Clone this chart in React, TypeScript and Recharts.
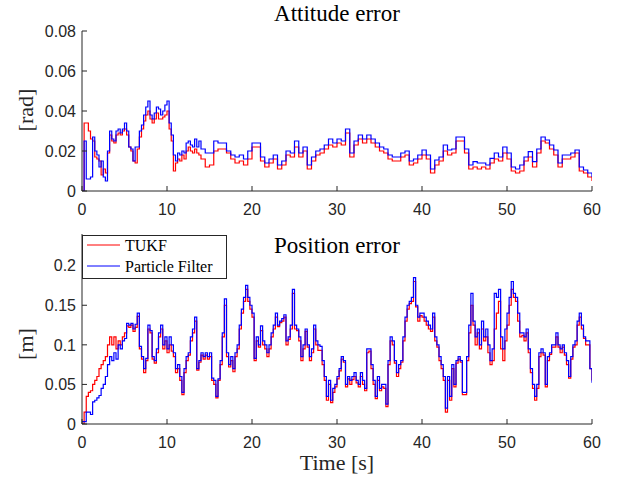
import React from 'react';
import { LineChart, Line, XAxis, YAxis } from 'recharts';

// ---------- Attitude error (top) ----------
// time: 0..14 s every 0.25 s, then 14.5..60 s every 0.5 s
const attTimeFine = Array.from({ length: 57 }, (_, i) => i * 0.25);
const attTimeCoarse = Array.from({ length: 92 }, (_, i) => 14.5 + i * 0.5);
const attTime = [...attTimeFine, ...attTimeCoarse];

const attTukf = [
  0, 0.034, 0.034, 0.03,
  0.026, 0.025, 0.017, 0.016,
  0.015, 0.008, 0.011, 0.009,
  0.019, 0.028, 0.025, 0.024,
  0.028, 0.029, 0.028, 0.03,
  0.031, 0.028, 0.022, 0.02,
  0.015, 0.014, 0.021, 0.027,
  0.031, 0.035, 0.038, 0.04,
  0.036, 0.034, 0.036, 0.039,
  0.036, 0.036, 0.037, 0.038,
  0.04, 0.031, 0.025, 0.01,
  0.014, 0.016, 0.015, 0.018,
  0.016, 0.02, 0.022, 0.02,
  0.019, 0.021, 0.019, 0.018,
  0.016,
  // 14.5 .. 60 every 0.5
  0.012, 0.013, 0.02, 0.021, 0.021, 0.019, 0.016, 0.014, 0.015, 0.013, 0.016,
  0.022, 0.022, 0.015, 0.012, 0.014, 0.016, 0.011, 0.013, 0.018, 0.017,
  0.022, 0.017, 0.02, 0.011, 0.015, 0.018, 0.019, 0.021, 0.023, 0.022,
  0.024, 0.023, 0.029, 0.017, 0.023, 0.026, 0.024, 0.026, 0.024, 0.022,
  0.02, 0.019, 0.016, 0.015, 0.015, 0.017, 0.018, 0.013, 0.014, 0.016,
  0.018, 0.016, 0.009, 0.013, 0.015, 0.02, 0.018, 0.019, 0.025, 0.025,
  0.019, 0.011, 0.012, 0.011, 0.012, 0.011, 0.014, 0.016, 0.015, 0.019,
  0.016, 0.01, 0.009, 0.01, 0.015, 0.017, 0.012, 0.019, 0.025, 0.024,
  0.021, 0.018, 0.012, 0.016, 0.016, 0.017, 0.019, 0.01, 0.009, 0.007,
  0.005,
];

const attPf = [
  0, 0.025, 0.006, 0.006,
  0.007, 0.027, 0.02, 0.018,
  0.012, 0.015, 0.007, 0.005,
  0.02, 0.03, 0.026, 0.025,
  0.03, 0.031, 0.029, 0.031,
  0.034, 0.03, 0.022, 0.021,
  0.015, 0.022, 0.022, 0.03,
  0.033, 0.038, 0.042, 0.045,
  0.038, 0.036, 0.039, 0.042,
  0.041, 0.038, 0.04, 0.043,
  0.045, 0.034, 0.028, 0.018,
  0.015, 0.019, 0.018, 0.02,
  0.019, 0.024, 0.025, 0.023,
  0.022, 0.026, 0.022, 0.025,
  0.021,
  // 14.5 .. 60 every 0.5
  0.019, 0.019, 0.025, 0.024, 0.024, 0.02, 0.018, 0.017, 0.018, 0.016, 0.02,
  0.024, 0.024, 0.017, 0.014, 0.016, 0.018, 0.013, 0.015, 0.02, 0.019,
  0.025, 0.019, 0.022, 0.013, 0.017, 0.02, 0.021, 0.023, 0.026, 0.024,
  0.026, 0.025, 0.031, 0.019, 0.025, 0.028, 0.026, 0.028, 0.026, 0.024,
  0.022, 0.021, 0.018, 0.017, 0.017, 0.019, 0.02, 0.015, 0.016, 0.018,
  0.0205, 0.018, 0.011, 0.0155, 0.017, 0.023, 0.0205, 0.021, 0.027, 0.027,
  0.021, 0.013, 0.0147, 0.014, 0.014, 0.013, 0.0163, 0.019, 0.017, 0.022,
  0.019, 0.012, 0.011, 0.013, 0.017, 0.0197, 0.0147, 0.021, 0.027, 0.0255,
  0.023, 0.0205, 0.014, 0.018, 0.018, 0.019, 0.0205, 0.012, 0.0105, 0.009,
  0.007,
];

// ---------- Position error (bottom) ----------
const posTime = Array.from({ length: 241 }, (_, i) => i * 0.25);

const posTukf = [
  0, 0.015, 0.035, 0.04,
  0.042, 0.05, 0.055, 0.06,
  0.07, 0.075, 0.08, 0.085,
  0.1, 0.11, 0.1, 0.11,
  0.095, 0.105, 0.1, 0.11,
  0.115, 0.124, 0.122, 0.125,
  0.117, 0.122, 0.136, 0.095,
  0.082, 0.065, 0.08, 0.12,
  0.115, 0.082, 0.077, 0.09,
  0.11, 0.12, 0.095, 0.105,
  0.09, 0.1, 0.092, 0.085,
  0.065, 0.07, 0.055, 0.037,
  0.065, 0.08, 0.087, 0.105,
  0.115, 0.13, 0.068, 0.078,
  0.087, 0.082, 0.087, 0.082,
  0.085, 0.055, 0.05, 0.033,
  0.055, 0.075, 0.11, 0.15,
  0.085, 0.072, 0.08, 0.066,
  0.085, 0.095, 0.12, 0.14,
  0.155, 0.17, 0.155, 0.145,
  0.135, 0.08, 0.105, 0.097,
  0.118, 0.1, 0.095, 0.085,
  0.095, 0.11, 0.12, 0.135,
  0.123, 0.128, 0.13, 0.135,
  0.1, 0.107, 0.12, 0.165,
  0.12, 0.118, 0.105, 0.08,
  0.095, 0.117, 0.097, 0.08,
  0.09, 0.12, 0.1, 0.093,
  0.093, 0.075, 0.055, 0.03,
  0.05, 0.027, 0.04, 0.047,
  0.057, 0.067, 0.082, 0.078,
  0.047, 0.057, 0.05, 0.056,
  0.06, 0.052, 0.047, 0.06,
  0.05, 0.042, 0.09, 0.092,
  0.07, 0.05, 0.032, 0.055,
  0.042, 0.047, 0.045, 0.022,
  0.075, 0.105, 0.1, 0.077,
  0.06, 0.07, 0.078, 0.105,
  0.13, 0.145, 0.152, 0.155,
  0.18, 0.148, 0.13, 0.137,
  0.135, 0.13, 0.125, 0.12,
  0.117, 0.135, 0.105, 0.097,
  0.08, 0.07, 0.055, 0.015,
  0.055, 0.03, 0.07, 0.047,
  0.077, 0.082, 0.078, 0.037,
  0.037, 0.08, 0.115, 0.15,
  0.125, 0.1, 0.115, 0.095,
  0.12, 0.105, 0.11, 0.09,
  0.075, 0.08, 0.12, 0.14,
  0.155, 0.095, 0.08, 0.105,
  0.125, 0.15, 0.17, 0.16,
  0.155, 0.13, 0.11, 0.112,
  0.105, 0.115, 0.09, 0.065,
  0.045, 0.03, 0.045, 0.085,
  0.09, 0.087, 0.047, 0.08,
  0.088, 0.097, 0.097, 0.11,
  0.097, 0.09, 0.097, 0.087,
  0.075, 0.058, 0.082, 0.097,
  0.1, 0.125, 0.135, 0.12,
  0.108, 0.1, 0.1, 0.07,
  0.055,
];

const posPf = [
  0.003, 0.003, 0.015, 0.015,
  0.012, 0.028, 0.03, 0.033,
  0.036, 0.045, 0.05, 0.06,
  0.075, 0.085, 0.08, 0.09,
  0.082, 0.1, 0.095, 0.105,
  0.108, 0.127, 0.125, 0.127,
  0.12, 0.126, 0.14, 0.098,
  0.085, 0.07, 0.083, 0.125,
  0.118, 0.085, 0.08, 0.095,
  0.115, 0.125, 0.1, 0.11,
  0.095, 0.11, 0.1, 0.09,
  0.07, 0.075, 0.06, 0.04,
  0.07, 0.085, 0.09, 0.11,
  0.12, 0.135, 0.07, 0.08,
  0.09, 0.085, 0.09, 0.085,
  0.09, 0.058, 0.055, 0.035,
  0.057, 0.08, 0.115, 0.158,
  0.09, 0.075, 0.085, 0.07,
  0.09, 0.1, 0.125, 0.145,
  0.16, 0.175, 0.16, 0.15,
  0.14, 0.083, 0.11, 0.1,
  0.124, 0.105, 0.1, 0.09,
  0.1, 0.115, 0.125, 0.14,
  0.125, 0.13, 0.133, 0.138,
  0.105, 0.11, 0.125, 0.17,
  0.125, 0.12, 0.11, 0.085,
  0.1, 0.12, 0.1, 0.085,
  0.095, 0.125, 0.105, 0.1,
  0.098, 0.08, 0.06, 0.035,
  0.055, 0.03, 0.045, 0.05,
  0.06, 0.07, 0.085, 0.08,
  0.05, 0.06, 0.055, 0.06,
  0.065, 0.055, 0.05, 0.065,
  0.055, 0.045, 0.095, 0.095,
  0.075, 0.055, 0.035, 0.06,
  0.045, 0.05, 0.05, 0.025,
  0.08, 0.11, 0.105, 0.08,
  0.065, 0.075, 0.08, 0.11,
  0.135, 0.15, 0.155, 0.16,
  0.185, 0.15, 0.135, 0.14,
  0.14, 0.135, 0.13, 0.125,
  0.12, 0.14, 0.11, 0.1,
  0.085, 0.075, 0.06, 0.02,
  0.06, 0.035, 0.075, 0.05,
  0.08, 0.085, 0.08, 0.04,
  0.04, 0.085, 0.125, 0.165,
  0.13, 0.11, 0.12, 0.1,
  0.13, 0.11, 0.12, 0.1,
  0.08, 0.095, 0.165, 0.16,
  0.17, 0.11, 0.095, 0.12,
  0.14, 0.16, 0.18, 0.165,
  0.16, 0.14, 0.115, 0.115,
  0.11, 0.12, 0.095, 0.07,
  0.05, 0.035, 0.05, 0.09,
  0.095, 0.09, 0.05, 0.085,
  0.09, 0.1, 0.1, 0.115,
  0.1, 0.095, 0.1, 0.09,
  0.08, 0.06, 0.085, 0.1,
  0.105, 0.13, 0.14, 0.125,
  0.11, 0.105, 0.105, 0.07,
  0.052,
];

const xTicks = [0, 10, 20, 30, 40, 50, 60];
const attTicks = [0, 0.02, 0.04, 0.06, 0.08];
const posTicks = [0, 0.05, 0.1, 0.15, 0.2];

const seriesNames = ['TUKF', 'Particle Filter'];
const seriesColors = ['#ff0000', '#0000ff'];

const attData = attTime.map((t, i) => ({ t, tukf: attTukf[i], pf: attPf[i] }));
const posData = posTime.map((t, i) => ({ t, tukf: posTukf[i], pf: posPf[i] }));

const AX = '#262626';
const SANS = '"Liberation Sans", Arial, sans-serif';
const SERIF = '"Liberation Serif", "Times New Roman", serif';

const tickStyle = { fill: AX, fontSize: 16, fontFamily: SANS };
const fmt = (v: number) => String(v);

function Panel({ data, yDomain, yTicks, height, top, marginTop }: any) {
  return (
    <div style={{ position: 'absolute', left: 0, top }}>
      <LineChart
        width={620}
        height={height}
        data={data}
        margin={{ top: marginTop, right: 28, bottom: 27, left: 22 }}
      >
        <XAxis
          dataKey="t"
          type="number"
          domain={[0, 60]}
          ticks={xTicks}
          height={30}
          tickSize={-5}
          tickMargin={18}
          axisLine={{ stroke: AX }}
          tickLine={{ stroke: AX }}
          tick={tickStyle}
          allowDataOverflow
        />
        <YAxis
          type="number"
          domain={yDomain}
          ticks={yTicks}
          width={60}
          tickSize={-5}
          tickMargin={11}
          tickFormatter={fmt}
          axisLine={{ stroke: AX }}
          tickLine={{ stroke: AX }}
          tick={tickStyle}
          allowDataOverflow
        />
        <Line
          dataKey="tukf"
          type="stepAfter"
          stroke={seriesColors[0]}
          strokeWidth={1.2}
          dot={false}
          isAnimationActive={false}
        />
        <Line
          dataKey="pf"
          type="stepAfter"
          stroke={seriesColors[1]}
          strokeWidth={1.2}
          dot={false}
          isAnimationActive={false}
        />
      </LineChart>
    </div>
  );
}

export default function App() {
  return (
    <div
      style={{
        position: 'absolute',
        left: 0,
        top: 0,
        width: 620,
        height: 481,
        background: '#ffffff',
        overflow: 'hidden',
      }}
    >
      {/* top: plot area y 31..191 */}
      <Panel data={attData} yDomain={[0, 0.08]} yTicks={attTicks} height={248} top={0} marginTop={31} />
      {/* bottom: plot area y 234..424 */}
      <Panel data={posData} yDomain={[0, 0.24]} yTicks={posTicks} height={261} top={220} marginTop={14} />
      <svg
        width={620}
        height={481}
        style={{ position: 'absolute', left: 0, top: 0, pointerEvents: 'none' }}
      >
        <text x={337} y={21} textAnchor="middle" fontFamily={SERIF} fontSize={23} fill="#000">
          Attitude error
        </text>
        <text x={337} y={253} textAnchor="middle" fontFamily={SERIF} fontSize={23} fill="#000">
          Position error
        </text>
        <text x={337} y={470} textAnchor="middle" fontFamily={SERIF} fontSize={22} fill="#262626">
          Time [s]
        </text>
        <text
          x={0}
          y={0}
          transform="translate(33,110) rotate(-90)"
          textAnchor="middle"
          fontFamily={SERIF}
          fontSize={22}
          fill="#262626"
        >
          [rad]
        </text>
        <text
          x={0}
          y={0}
          transform="translate(33,344) rotate(-90)"
          textAnchor="middle"
          fontFamily={SERIF}
          fontSize={22}
          fill="#262626"
        >
          [m]
        </text>
        {/* legend */}
        <rect x={82.5} y={235.5} width={144} height={43} fill="#fff" stroke={AX} strokeWidth={1} />
        <line x1={87} y1={245} x2={120} y2={245} stroke={seriesColors[0]} strokeWidth={1} />
        <text x={125} y={250.5} fontFamily={SERIF} fontSize={16} fill="#000">
          {seriesNames[0]}
        </text>
        <line x1={87} y1={266} x2={120} y2={266} stroke={seriesColors[1]} strokeWidth={1} />
        <text x={125} y={271.5} fontFamily={SERIF} fontSize={16} fill="#000">
          {seriesNames[1]}
        </text>
      </svg>
    </div>
  );
}
